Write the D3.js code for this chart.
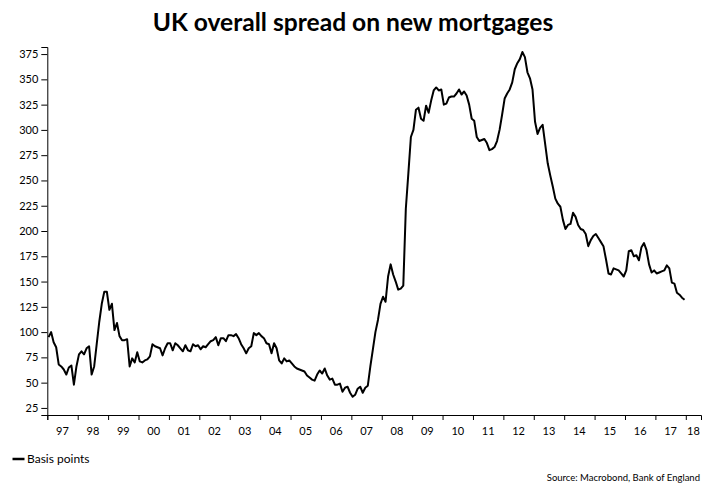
<!DOCTYPE html>
<html>
<head>
<meta charset="utf-8">
<script src="https://cdn.jsdelivr.net/npm/d3@7"></script>
<style>
  html, body { margin: 0; padding: 0; background: #fff; }
  svg { display: block; }
  text { font-family: Lato, "Open Sans", sans-serif; fill: #000; }
</style>
</head>
<body>
<svg id="chart" width="702" height="486"></svg>
<script>
// Monthly spread on new mortgages, basis points, Jan 1997 – Dec 2017
const startYear = 1997;
const spread1997 = [95, 100, 90, 85, 68, 66, 63, 58, 65, 67, 48, 66];
const spread1998 = [78, 81, 78, 84, 86, 58, 66, 88, 110, 128, 140, 140];
const spread1999 = [122, 128, 102, 109, 96, 92, 92, 93, 66, 74, 70, 80];
const spread2000 = [71, 70, 72, 73, 76, 88, 86, 85, 84, 77, 84, 89];
const spread2001 = [89, 82, 89, 87, 84, 81, 87, 82, 81, 88, 86, 87];
const spread2002 = [83, 86, 85, 88, 91, 92, 95, 87, 94, 94, 91, 97];
const spread2003 = [97, 96, 98, 94, 88, 84, 79, 84, 86, 99, 97, 99];
const spread2004 = [96, 94, 89, 88, 79, 89, 84, 72, 69, 74, 71, 72];
const spread2005 = [69, 66, 64, 63, 62, 61, 57, 55, 53, 52, 58, 62];
const spread2006 = [59, 64, 57, 53, 54, 48, 48, 49, 41, 45, 46, 40];
const spread2007 = [36, 38, 44, 46, 40, 45, 47, 66, 83, 100, 112, 128];
const spread2008 = [135, 130, 155, 167, 157, 150, 142, 143, 146, 222, 257, 293];
const spread2009 = [300, 320, 322, 311, 309, 324, 317, 329, 339, 342, 339, 340];
const spread2010 = [325, 326, 332, 333, 333, 336, 340, 335, 338, 334, 325, 311];
const spread2011 = [309, 293, 289, 290, 291, 287, 280, 281, 283, 289, 300, 315];
const spread2012 = [331, 336, 340, 347, 360, 366, 370, 377, 372, 357, 351, 340];
const spread2013 = [308, 296, 302, 305, 286, 267, 255, 244, 232, 227, 224, 211];
const spread2014 = [202, 206, 207, 218, 214, 206, 202, 201, 197, 185, 191, 195];
const spread2015 = [197, 193, 189, 185, 172, 158, 157, 163, 162, 161, 158, 155];
const spread2016 = [161, 180, 181, 175, 176, 171, 184, 188, 181, 167, 159, 161];
const spread2017 = [158, 159, 160, 161, 166, 163, 149, 148, 139, 137, 134, 132];

const yTicks = [25, 50, 75, 100, 125, 150, 175, 200, 225, 250, 275, 300, 325, 350, 375];
const yearLabels = ["97", "98", "99", "00", "01", "02", "03", "04", "05", "06", "07",
                    "08", "09", "10", "11", "12", "13", "14", "15", "16", "17", "18"];

const title = "UK overall spread on new mortgages";
const seriesName = "Basis points";
const sourceText = "Source: Macrobond, Bank of England";

// Flatten the yearly arrays into dated points (plotted mid-month)
const years = [spread1997, spread1998, spread1999, spread2000, spread2001, spread2002,
  spread2003, spread2004, spread2005, spread2006, spread2007, spread2008, spread2009,
  spread2010, spread2011, spread2012, spread2013, spread2014, spread2015, spread2016,
  spread2017];
const points = [];
years.forEach((vals, yi) => {
  vals.forEach((v, mi) => points.push({ t: startYear + yi + (mi + 0.5) / 12, v }));
});

const svg = d3.select("#chart");

const plot = { left: 47.3, right: 701, top: 47, bottom: 415 };
const xEnd = 2018.5;

const x = d3.scaleLinear().domain([startYear, xEnd]).range([plot.left, plot.right]);
const y = d3.scaleLinear().domain([18, 382]).range([plot.bottom, plot.top]);

// Title
svg.append("text")
  .attr("x", 353).attr("y", 31)
  .attr("text-anchor", "middle")
  .attr("font-size", 24.6).attr("font-weight", 700)
  .text(title);

// Y axis
const yAxis = d3.axisLeft(y).tickValues(yTicks).tickSize(6).tickPadding(3);
const gy = svg.append("g")
  .attr("transform", `translate(${plot.left},0)`)
  .call(yAxis);
gy.select(".domain").attr("stroke", "#000");
gy.selectAll(".tick line").attr("stroke", "#000");
gy.selectAll(".tick text").attr("font-size", 11).attr("font-family", "Lato, sans-serif").attr("fill", "#000");

// X axis: year boundary ticks, labels centred within each year
const yearStarts = d3.range(startYear, 2019);
const xAxis = d3.axisBottom(x).tickValues(yearStarts).tickSize(5).tickFormat("");
const gx = svg.append("g")
  .attr("transform", `translate(0,${plot.bottom})`)
  .call(xAxis);
gx.select(".domain").attr("stroke", "#000");
gx.selectAll(".tick line").attr("stroke", "#000");

svg.append("g").selectAll("text")
  .data(yearLabels)
  .join("text")
  .attr("x", (d, i) => (x(startYear + i) + x(Math.min(startYear + i + 1, xEnd))) / 2)
  .attr("y", plot.bottom + 20)
  .attr("text-anchor", "middle")
  .attr("font-size", 11)
  .text(d => d);

// Series line
const line = d3.line().x(d => x(d.t)).y(d => y(d.v));
svg.append("path")
  .datum(points)
  .attr("fill", "none")
  .attr("stroke", "#000")
  .attr("stroke-width", 2)
  .attr("stroke-linejoin", "round")
  .attr("d", line);

// Legend
svg.append("line")
  .attr("x1", 12.5).attr("x2", 24.5)
  .attr("y1", 459).attr("y2", 459)
  .attr("stroke", "#000").attr("stroke-width", 2.5);
svg.append("text")
  .attr("x", 27).attr("y", 463)
  .attr("font-size", 12)
  .text(seriesName);

// Source note, right-aligned to the page edge
svg.append("text")
  .attr("x", 700).attr("y", 481)
  .attr("text-anchor", "end")
  .attr("font-size", 9.5)
  .text(sourceText);
</script>
</body>
</html>
